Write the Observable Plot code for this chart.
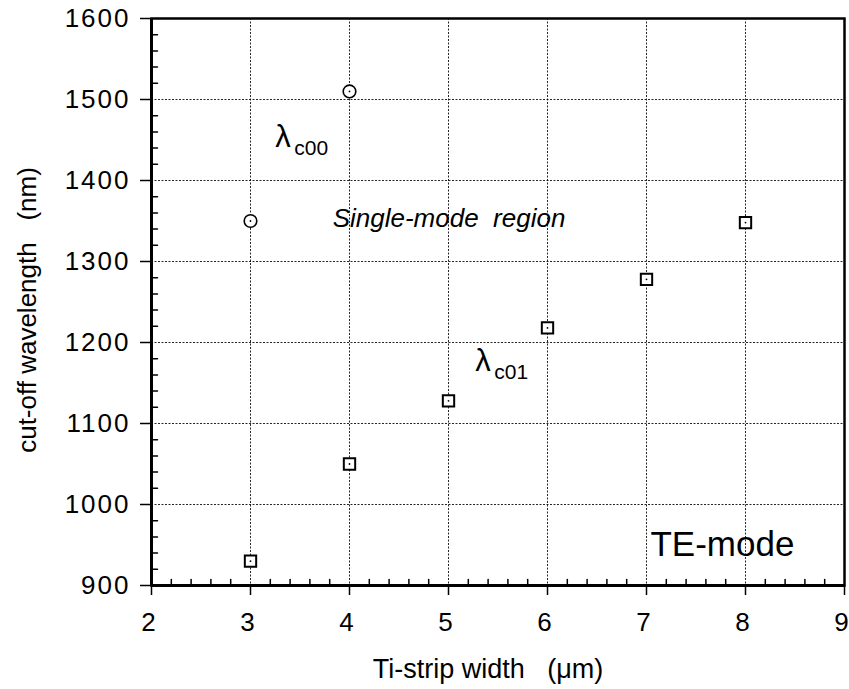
<!DOCTYPE html>
<html>
<head>
<meta charset="utf-8">
<script src="https://cdn.jsdelivr.net/npm/d3@7"></script>
<script src="https://cdn.jsdelivr.net/npm/@observablehq/plot@0.6"></script>
<style>
  html, body { margin: 0; padding: 0; background: #fff; }
  #chart svg { display: block; }
  #chart g[aria-label="y-axis tick label"] text { letter-spacing: 2px; }
</style>
</head>
<body>
<div id="chart"></div>
<script>
// ---- data ----
const lc00Width = [3, 4];
const lc00Wave  = [1350, 1510];
const lc01Width = [3, 4, 5, 6, 7, 8];
const lc01Wave  = [930, 1050, 1128, 1218, 1278, 1348];

const xTicks = [2, 3, 4, 5, 6, 7, 8, 9];
const yTicks = [900, 1000, 1100, 1200, 1300, 1400, 1500, 1600];
const xGrid = [3, 4, 5, 6, 7, 8];
const yGrid = [1000, 1100, 1200, 1300, 1400, 1500];
const xMinor = d3.range(2.2, 9, 0.2).map(v => +v.toFixed(1)).filter(v => Math.abs(v - Math.round(v)) > 0.01);
const yMinor = d3.range(920, 1600, 20).filter(v => v % 100 !== 0);

const xLabel = "Ti-strip width\u00a0\u00a0 (\u03bcm)";
const yLabel = "cut-off wavelength\u00a0\u00a0 (nm)";

const lambdaLabels = [
  {x: 3.25, y: 1441, main: "\u03bb", sub: "c00"},
  {x: 5.27, y: 1165, main: "\u03bb", sub: "c01"}
];
const regionLabel = [{x: 3.83, y: 1342, text: "Single-mode\u00a0 region"}];
const modeLabel = [{x: 7.04, y: 937, text: "TE-mode"}];

const circles = lc00Width.map((w, i) => ({w, v: lc00Wave[i]}));
const squares = lc01Width.map((w, i) => ({w, v: lc01Wave[i]}));

const tickShape = {draw(ctx, l) { ctx.moveTo(0, 0); ctx.lineTo(0, -l); }};
const font = "'Liberation Sans', Arial, Helvetica, sans-serif";

const chart = Plot.plot({
  width: 849,
  height: 689,
  marginLeft: 151,
  marginRight: 5,
  marginTop: 18,
  marginBottom: 104,
  style: {fontFamily: font, color: "black", background: "white"},
  x: {domain: [2, 9]},
  y: {domain: [900, 1600]},
  marks: [
    // grid
    Plot.ruleX(xGrid, {stroke: "black", strokeWidth: 1, strokeDasharray: "2,1.5", strokeOpacity: 0.85}),
    Plot.ruleY(yGrid, {stroke: "black", strokeWidth: 1, strokeDasharray: "2,1.5", strokeOpacity: 0.85}),
    // axes
    Plot.axisX(xTicks, {tickSize: 10, strokeWidth: 1.5, text: null, label: null}),
    Plot.axisX(xTicks, {tickSize: 0, tickPadding: 27, dx: -3, fontSize: 26, tickFormat: d => String(d), label: null}),
    Plot.axisY(yTicks, {tickSize: 11, tickPadding: 10, fontSize: 26, strokeWidth: 1.5, tickFormat: d => String(d), label: null}),
    Plot.vector(xMinor, {x: d => d, y: 900, length: 6, rotate: 0, anchor: "start", shape: tickShape, stroke: "black", strokeWidth: 1.5}),
    Plot.vector(yMinor, {x: 2, y: d => d, length: 6, rotate: 90, anchor: "start", shape: tickShape, stroke: "black", strokeWidth: 1.5}),
    // frame
    Plot.frame({stroke: "black", strokeWidth: 2.5}),
    Plot.ruleX([2], {stroke: "black", strokeWidth: 3}),
    Plot.ruleY([900], {stroke: "black", strokeWidth: 3}),
    // data
    Plot.dot(circles, {x: "w", y: "v", r: 6.3, fill: "white", stroke: "black", strokeWidth: 1.6}),
    Plot.dot(squares, {x: "w", y: "v", r: 6.4, symbol: "square", fill: "white", stroke: "black", strokeWidth: 2}),
    Plot.dot([...circles, ...squares], {x: "w", y: "v", r: 0.9, fill: "black"}),
    // annotations
    Plot.text(lambdaLabels, {x: "x", y: "y", text: "main", textAnchor: "start", lineAnchor: "bottom", fontSize: 31, fill: "black"}),
    Plot.text(lambdaLabels, {x: "x", y: "y", text: "sub", textAnchor: "start", lineAnchor: "bottom", fontSize: 21, dx: 19, dy: 8, fill: "black"}),
    Plot.text(regionLabel, {x: "x", y: "y", text: "text", textAnchor: "start", lineAnchor: "bottom", fontSize: 26, fontStyle: "italic", fill: "black", style: "letter-spacing:0.8px"}),
    Plot.text(modeLabel, {x: "x", y: "y", text: "text", textAnchor: "start", lineAnchor: "bottom", fontSize: 35, fill: "black"}),
    // axis titles
    Plot.text([xLabel], {frameAnchor: "bottom", text: d => d, textAnchor: "middle", dx: -10, dy: 92, lineAnchor: "bottom", fontSize: 27, fill: "black", style: "letter-spacing:0.8px"}),
    Plot.text([yLabel], {frameAnchor: "left", text: d => d, textAnchor: "middle", dx: -134, dy: 8, rotate: -90, lineAnchor: "top", fontSize: 26, fill: "black", style: "letter-spacing:1.2px"})
  ]
});
document.getElementById("chart").appendChild(chart);
</script>
</body>
</html>
